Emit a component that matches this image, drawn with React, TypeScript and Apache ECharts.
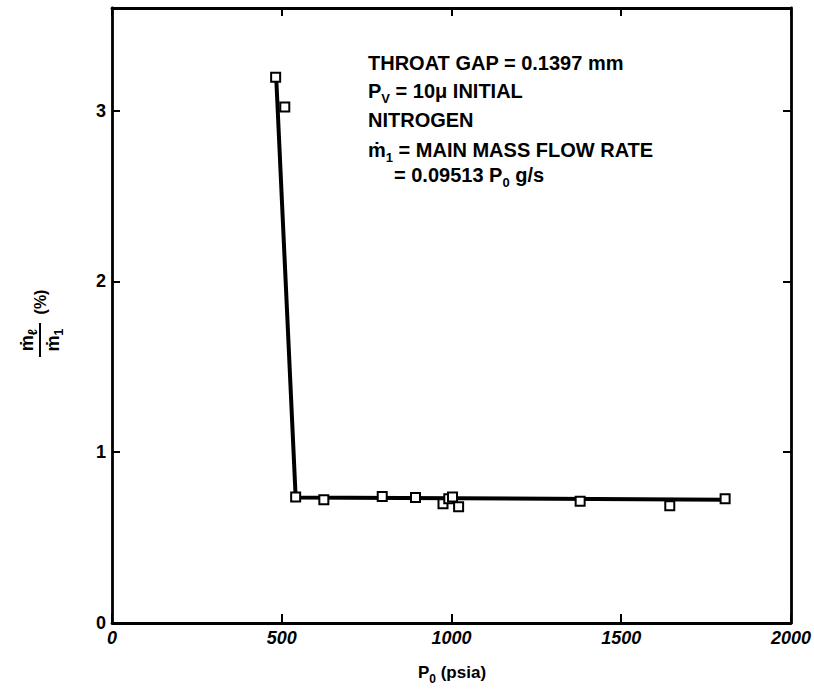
import React, { useEffect, useRef } from "react";
import * as echarts from "echarts";

// Measured data points (P0 in psia, leak ratio in %)
const pressure = [482, 509, 541, 624, 796, 894, 975, 992, 1003, 1021, 1379, 1643, 1806];
const ratio = [3.195, 3.02, 0.738, 0.722, 0.741, 0.734, 0.698, 0.728, 0.737, 0.681, 0.713, 0.687, 0.728];

// Hand-drawn fit curve through the data
const fitPressure = [484, 541, 1806];
const fitRatio = [3.18, 0.735, 0.722];

const xTicks = [0, 500, 1000, 1500, 2000];
const yTicks = [0, 1, 2, 3];

const annotationLines = [
  "THROAT GAP = 0.1397 mm",
  "P{s|V} = 10μ INITIAL",
  "NITROGEN",
  "ṁ{s|1} = MAIN MASS FLOW RATE",
  "= 0.09513 P{s|0} g/s",
];

const FONT = "'Liberation Sans', Arial, 'DejaVu Sans', sans-serif";

export default function App() {
  const ref = useRef<HTMLDivElement>(null);

  useEffect(() => {
    if (!ref.current) return;
    const chart = echarts.init(ref.current, null, { renderer: "svg" });

    const axisLine = { show: true, onZero: false, lineStyle: { color: "#000", width: 2.8 } };
    const tickStyle = { color: "#000", width: 2 };
    const subRich = {
      s: { fontSize: 13, fontWeight: "bold", fontFamily: FONT, verticalAlign: "bottom", lineHeight: 13, fill: "#000" },
    };

    const annX = [368, 368, 368, 368, 394];
    const annY = [63, 91, 120, 150, 175];

    const option: any = {
      animation: false,
      backgroundColor: "#fff",
      grid: { left: 112, right: 22, top: 8, bottom: 66 },
      xAxis: [
        {
          type: "value",
          min: 0,
          max: 2000,
          interval: 500,
          position: "bottom",
          axisLine,
          axisTick: { show: true, inside: true, length: 9, customValues: xTicks, lineStyle: tickStyle },
          axisLabel: {
            customValues: xTicks,
            formatter: (v: number) => String(v),
            color: "#000",
            fontSize: 18,
            fontWeight: "bold",
            fontStyle: "italic",
            fontFamily: FONT,
            margin: 6,
          },
          splitLine: { show: false },
        },
        {
          type: "value",
          min: 0,
          max: 2000,
          interval: 500,
          position: "top",
          axisLine,
          axisTick: { show: true, inside: true, length: 8, customValues: xTicks, lineStyle: tickStyle },
          axisLabel: { show: false },
          splitLine: { show: false },
        },
      ],
      yAxis: [
        {
          type: "value",
          min: 0,
          max: 3.6,
          interval: 1,
          position: "left",
          axisLine,
          axisTick: { show: true, inside: true, length: 8, customValues: yTicks, lineStyle: tickStyle },
          axisLabel: {
            customValues: yTicks,
            formatter: (v: number) => String(v),
            color: "#000",
            fontSize: 18,
            fontWeight: "bold",
            fontFamily: FONT,
            margin: 6,
          },
          splitLine: { show: false },
        },
        {
          type: "value",
          min: 0,
          max: 3.6,
          interval: 1,
          position: "right",
          axisLine,
          axisTick: { show: true, inside: true, length: 8, customValues: yTicks, lineStyle: tickStyle },
          axisLabel: { show: false },
          splitLine: { show: false },
        },
      ],
      series: [
        {
          type: "line",
          data: fitPressure.map((p, i) => [p, fitRatio[i]]),
          showSymbol: false,
          lineStyle: { color: "#000", width: 4 },
          z: 2,
        },
        {
          type: "scatter",
          data: pressure.map((p, i) => [p, ratio[i]]),
          symbol: "rect",
          symbolSize: 9,
          itemStyle: { color: "#fff", borderColor: "#000", borderWidth: 2, opacity: 1 },
          z: 3,
        },
      ],
      graphic: [
        ...annotationLines.map((t, i) => ({
          type: "text",
          x: annX[i],
          y: annY[i],
          z: 10,
          style: {
            text: t,
            fill: "#000",
            fontSize: 20,
            fontWeight: "bold",
            fontFamily: FONT,
            align: "left",
            verticalAlign: "middle",
            lineHeight: 28,
            rich: subRich,
          },
        })),
        {
          type: "text",
          x: 452,
          y: 672,
          z: 10,
          style: {
            text: "P{s|0} (psia)",
            fill: "#000",
            fontSize: 17,
            fontWeight: "bold",
            fontFamily: FONT,
            align: "center",
            verticalAlign: "middle",
            lineHeight: 26,
            rich: { s: { ...subRich.s, fontSize: 12, lineHeight: 12 } },
          },
        },
        {
          type: "group",
          x: 40,
          y: 340,
          rotation: Math.PI / 2,
          z: 10,
          children: [
            {
              type: "text",
              x: 0,
              y: -13,
              style: {
                text: "ṁ{s|ℓ}",
                fill: "#000",
                fontSize: 18,
                fontWeight: "bold",
                fontFamily: FONT,
                align: "center",
                verticalAlign: "middle",
                lineHeight: 24,
                rich: { s: { ...subRich.s, fontSize: 13, lineHeight: 13 } },
              },
            },
            {
              type: "line",
              shape: { x1: -17, y1: 0, x2: 17, y2: 0 },
              style: { stroke: "#000", lineWidth: 2 },
            },
            {
              type: "text",
              x: 0,
              y: 13,
              style: {
                text: "ṁ{s|1}",
                fill: "#000",
                fontSize: 18,
                fontWeight: "bold",
                fontFamily: FONT,
                align: "center",
                verticalAlign: "middle",
                lineHeight: 24,
                rich: { s: { ...subRich.s, fontSize: 13, lineHeight: 13 } },
              },
            },
            {
              type: "text",
              x: 38,
              y: 0,
              style: {
                text: "(%)",
                fill: "#000",
                fontSize: 16,
                fontWeight: "bold",
                fontFamily: FONT,
                align: "center",
                verticalAlign: "middle",
              },
            },
          ],
        },
      ],
    };

    chart.setOption(option);
    return () => chart.dispose();
  }, []);

  return <div ref={ref} style={{ width: 814, height: 689, position: "absolute", left: 0, top: 0 }} />;
}
